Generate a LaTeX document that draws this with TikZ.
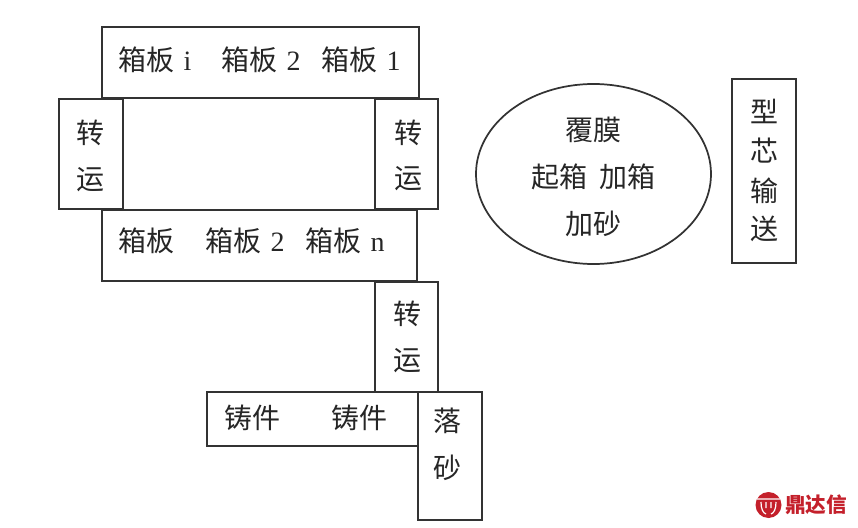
\documentclass[tikz,border=0pt]{standalone}
\usepackage{fontspec}
\setmainfont{Liberation Serif}
\newfontfamily\cjk{Noto Sans CJK SC}
\usepackage{tikz}
\usetikzlibrary{shapes.geometric}

\tikzset{
  panel/.style={draw=black!80, line width=1.1pt, rectangle, inner sep=0pt},
  word/.style={inner sep=0pt, font=\cjk\fontsize{21}{21}\selectfont, text=black!85},
  rowword/.style={word, anchor=west},
  logotext/.style={inner sep=0pt, anchor=west, text=logored, font=\cjk\bfseries\fontsize{15.5}{16}\selectfont}
}
\definecolor{logored}{HTML}{C4202B}

\begin{document}
\begin{tikzpicture}[x=0.75pt,y=-0.75pt]
   \useasboundingbox (0,0) rectangle (858,528);

   \node[panel, minimum width=237.75pt, minimum height=53.25pt] (topbox)   at (260.5,62.5) {};
   \node[panel, minimum width=236.25pt, minimum height=53.25pt] (lowbox)   at (259.5,245.5) {};
   \node[panel, minimum width=48pt,     minimum height=82.5pt]  (leftbox)  at (91,154) {};
   \node[panel, minimum width=47.25pt,  minimum height=82.5pt]  (rightbox) at (406.5,154) {};
   \node[panel, minimum width=47.25pt,  minimum height=82.5pt]  (downbox)  at (406.5,337) {};
   \node[panel, minimum width=158.25pt, minimum height=40.5pt]  (castbox)  at (312.5,419) {};
   \node[panel, minimum width=48pt,     minimum height=96pt]    (sandbox)  at (450,456) {};
   \node[panel, minimum width=48pt,     minimum height=138pt]   (corebox)  at (764,171) {};
   \node[panel, ellipse, line width=1.3pt, minimum width=176.25pt, minimum height=135pt] (filmpart) at (593.5,174) {};

   % top row
   \node[rowword] (top1) at (118,60) {箱板\,\,{\rmfamily i}};
   \node[rowword] (top2) at (221,60) {箱板\,\,{\rmfamily 2}};
   \node[rowword] (top3) at (321,60) {箱板\,\,{\rmfamily 1}};

   % lower row
   \node[rowword] (low1) at (118,241) {箱板};
   \node[rowword] (low2) at (205,241) {箱板\,\,{\rmfamily 2}};
   \node[rowword] (low3) at (305,241) {箱板\,\,{\rmfamily n}};

   \node[word] (left1)  at (90,133)  {转};
   \node[word] (left2)  at (90,180)  {运};
   \node[word] (right1) at (408,133) {转};
   \node[word] (right2) at (408,179) {运};
   \node[word] (down1)  at (407,314) {转};
   \node[word] (down2)  at (407,361) {运};

   \node[rowword] (cast1) at (224,418) {铸件};
   \node[rowword] (cast2) at (331,418) {铸件};
   \node[word] (sand1) at (447,421) {落};
   \node[word] (sand2) at (447,468) {砂};

   \node[word] (film1) at (593,130) {覆膜};
   \node[rowword] (film2) at (531,177) {起箱};
   \node[rowword] (film3) at (599,177) {加箱};
   \node[word] (film4) at (593,224) {加砂};

   \node[word] (core1) at (764,111) {型};
   \node[word] (core2) at (764,151) {芯};
   \node[word] (core3) at (764,191) {输};
   \node[word] (core4) at (764,229) {送};

   % logo
   \node[circle, fill=logored, inner sep=0pt, minimum size=19.5pt] (logomark) at (768.5,505) {};
   \draw[white, line width=0.9pt] (757,499) -- (780,499)
     (761,502) .. controls (761,509) and (763,513) .. (766,514)
     (776,502) .. controls (776,509) and (774,513) .. (771,514)
     (766,502) -- (766,508) (771,502) -- (771,508);
   \node[logotext] (logoname) at (785,505) {鼎达信};
\end{tikzpicture}
\end{document}
